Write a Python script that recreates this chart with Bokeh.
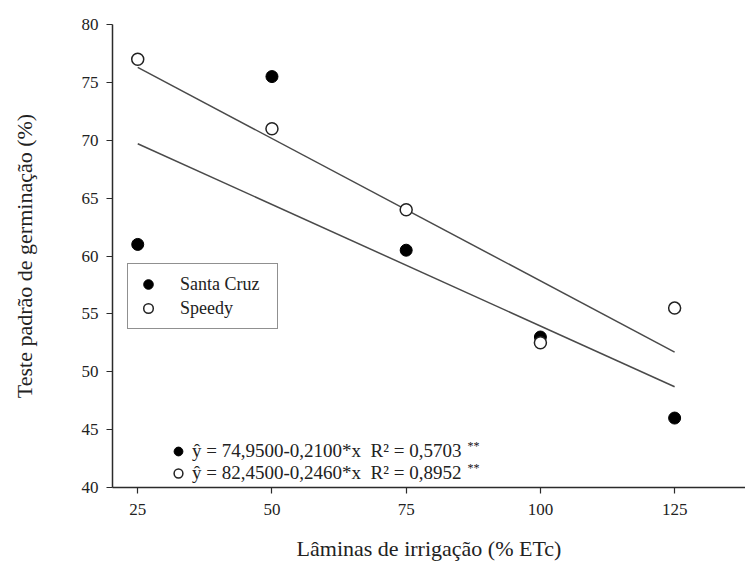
from bokeh.plotting import figure
from bokeh.models import Range1d, Legend, LegendItem, Label, FixedTicker
from bokeh.embed import file_html
from bokeh.resources import INLINE

# ---- data ----
laminas = [25, 50, 75, 100, 125]
santa_cruz = [61.0, 75.5, 60.5, 53.0, 46.0]
speedy = [77.0, 71.0, 64.0, 52.5, 55.5]

# regression coefficients (intercept, slope) as printed
sc_coef = (74.95, -0.2100)
sp_coef = (82.45, -0.2460)
fit_x = [25, 125]

x_ticks = [25, 50, 75, 100, 125]
y_ticks = [40, 45, 50, 55, 60, 65, 70, 75, 80]

eq_sc = "ŷ = 74,9500-0,2100*x\u00a0\u00a0R² = 0,5703"
eq_sp = "ŷ = 82,4500-0,2460*x\u00a0\u00a0R² = 0,8952"

FONT = "Liberation Serif"
AX = "#2b2b2b"

p = figure(width=745, height=563,
           x_range=Range1d(20.3, 138.2), y_range=Range1d(40, 80),
           output_backend="svg", toolbar_location=None,
           min_border_left=112, min_border_right=0,
           min_border_top=24, min_border_bottom=76)
p.outline_line_color = None
p.grid.visible = False
p.background_fill_color = "white"

for ax in (p.xaxis[0], p.yaxis[0]):
    ax.axis_line_color = AX
    ax.axis_line_width = 1.5
    ax.major_tick_line_color = AX
    ax.major_tick_line_width = 1.2
    ax.major_tick_out = 6
    ax.major_tick_in = 0
    ax.minor_tick_line_color = None
    ax.major_label_text_font = FONT
    ax.major_label_text_font_size = "17px"
    ax.major_label_text_color = "#222222"
    ax.axis_label_text_font = FONT
    ax.axis_label_text_font_size = "22px"
    ax.axis_label_text_font_style = "normal"
    ax.axis_label_text_color = "#222222"

p.xaxis.ticker = FixedTicker(ticks=x_ticks)
p.yaxis.ticker = FixedTicker(ticks=y_ticks)
p.xaxis.axis_label = "Lâminas de irrigação (% ETc)"
p.yaxis.axis_label = "Teste padrão de germinação (%)"
p.xaxis.major_label_standoff = 10
p.xaxis.axis_label_standoff = 18
p.yaxis.major_label_standoff = 8
p.yaxis.axis_label_standoff = 42

# regression lines
sc_fit = [sc_coef[0] + sc_coef[1] * x for x in fit_x]
sp_fit = [sp_coef[0] + sp_coef[1] * x for x in fit_x]
p.line(fit_x, sc_fit, line_color="#4a4a4a", line_width=1.5)
p.line(fit_x, sp_fit, line_color="#4a4a4a", line_width=1.5)

r_sc = p.scatter(laminas, santa_cruz, size=12, marker="circle",
                 fill_color="black", line_color="black", line_width=1)
r_sp = p.scatter(laminas, speedy, size=12, marker="circle",
                 fill_color="white", line_color="#222222", line_width=1.5)

leg1 = Legend(items=[LegendItem(label="Santa Cruz", renderers=[r_sc]),
                     LegendItem(label="Speedy", renderers=[r_sp])],
              location=(15, 158), margin=0, padding=8, spacing=0,
              glyph_width=24, glyph_height=24, label_height=24,
              label_width=89, label_standoff=20,
              border_line_color="#222222", border_line_width=1.5,
              background_fill_color="white", background_fill_alpha=1,
              label_text_font=FONT, label_text_font_size="18px",
              label_text_color="#222222")
p.add_layout(leg1)

leg2 = Legend(items=[LegendItem(label=eq_sc, renderers=[r_sc]),
                     LegendItem(label=eq_sp, renderers=[r_sp])],
              location=(55, 3), margin=0, padding=0, spacing=0,
              glyph_width=22, glyph_height=22, label_height=22,
              label_standoff=3,
              border_line_color=None, background_fill_alpha=0,
              label_text_font=FONT, label_text_font_size="19px",
              label_text_color="#222222")
p.add_layout(leg2)

for yy in (43.6, 41.7):
    p.add_layout(Label(x=86.4, y=yy, text="**", text_font=FONT,
                       text_font_size="12px", text_color="#111111",
                       text_baseline="middle"))

open("out.html", "w").write(file_html(p, INLINE))
